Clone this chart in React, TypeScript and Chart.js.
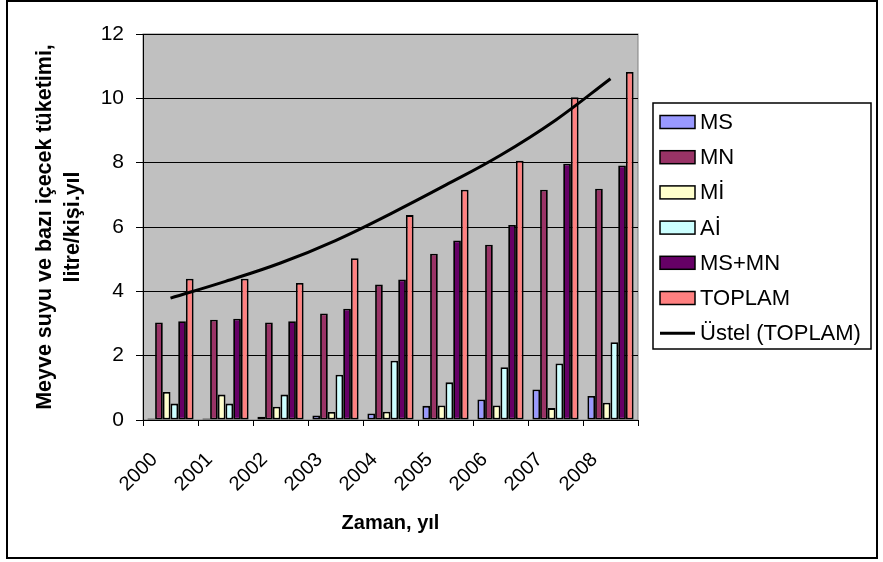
import { useEffect, useRef } from 'react';
import { Chart, registerables } from 'chart.js';

Chart.register(...registerables);

const years = ['2000', '2001', '2002', '2003', '2004', '2005', '2006', '2007', '2008'];
const msValues = [0.05, 0.05, 0.1, 0.14, 0.2, 0.44, 0.64, 0.95, 0.75];
const mnValues = [3.03, 3.12, 3.03, 3.31, 4.21, 5.17, 5.45, 7.16, 7.19];
const miValues = [0.87, 0.79, 0.41, 0.25, 0.26, 0.45, 0.45, 0.37, 0.54];
const aiValues = [0.51, 0.51, 0.79, 1.41, 1.84, 1.17, 1.64, 1.76, 2.42];
const msmnValues = [3.07, 3.15, 3.07, 3.46, 4.37, 5.58, 6.06, 7.97, 7.91];
const toplamValues = [4.39, 4.39, 4.26, 5.03, 6.37, 7.16, 8.06, 10.03, 10.82];
const trendValues = [3.79, 4.31, 4.88, 5.58, 6.41, 7.3, 8.23, 9.32, 10.61];
const yTicks = [0, 2, 4, 6, 8, 10, 12];

const FONT = 'Arial, "Liberation Sans", sans-serif';

const plotBackground = {
  id: 'plotBackground',
  beforeDraw(chart: any) {
    const { ctx, chartArea: a } = chart;
    ctx.save();
    ctx.fillStyle = '#c0c0c0';
    ctx.fillRect(a.left, a.top, a.right - a.left, a.bottom - a.top);
    ctx.strokeStyle = '#808080';
    ctx.lineWidth = 1;
    ctx.strokeRect(a.left, a.top, a.right - a.left, a.bottom - a.top);
    ctx.restore();
  },
};

// Excel-style boxed legend on the right, plus outer chart frame
const boxLegend = {
  id: 'boxLegend',
  afterDraw(chart: any) {
    const { ctx } = chart;
    ctx.save();
    ctx.strokeStyle = '#000';
    ctx.lineWidth = 2;
    ctx.strokeRect(7, 1, 870, 557);

    const x0 = 653, y0 = 103, w = 218, h = 246, row = 35.2;
    ctx.fillStyle = '#fff';
    ctx.fillRect(x0, y0, w, h);
    ctx.lineWidth = 1.5;
    ctx.strokeRect(x0, y0, w, h);
    ctx.font = `22px ${FONT}`;
    ctx.textBaseline = 'middle';
    chart.data.datasets.forEach((ds: any, i: number) => {
      const cy = y0 + 19 + i * row;
      if (ds.type === 'line') {
        ctx.strokeStyle = ds.borderColor;
        ctx.lineWidth = 3;
        ctx.beginPath();
        ctx.moveTo(660, cy);
        ctx.lineTo(695, cy);
        ctx.stroke();
      } else {
        ctx.fillStyle = ds.backgroundColor;
        ctx.fillRect(660, cy - 6.5, 35, 13);
        ctx.strokeStyle = '#000';
        ctx.lineWidth = 1.5;
        ctx.strokeRect(660, cy - 6.5, 35, 13);
      }
      ctx.fillStyle = '#000';
      ctx.fillText(ds.label, 700, cy + 1);
    });
    ctx.restore();
  },
};

export default function App() {
  const canvasRef = useRef<HTMLCanvasElement>(null);
  const chartRef = useRef<Chart | null>(null);

  useEffect(() => {
    document.body.style.margin = '0';
    if (!canvasRef.current) return;
    if (chartRef.current) chartRef.current.destroy();

    const bar = (label: string, data: number[], color: string) => ({
      type: 'bar' as const,
      label,
      data,
      backgroundColor: color,
      borderColor: '#000',
      borderWidth: 1.8,
      borderSkipped: false,
      categoryPercentage: 0.84,
      barPercentage: 1.0,
    });

    chartRef.current = new Chart(canvasRef.current, {
      type: 'bar',
      data: {
        labels: years,
        datasets: [
          bar('MS', msValues, '#9999ff'),
          bar('MN', mnValues, '#993366'),
          bar('Mİ', miValues, '#ffffcc'),
          bar('Aİ', aiValues, '#ccffff'),
          bar('MS+MN', msmnValues, '#660066'),
          bar('TOPLAM', toplamValues, '#ff8080'),
          {
            type: 'line' as any,
            label: 'Üstel (TOPLAM)',
            data: trendValues,
            borderColor: '#000',
            backgroundColor: '#000',
            borderWidth: 3,
            pointRadius: 0,
            tension: 0.4,
            order: -1,
          },
        ] as any,
      },
      options: {
        responsive: true,
        maintainAspectRatio: false,
        animation: false,
        layout: { padding: { left: 30, right: 245, top: 34, bottom: 20 } },
        plugins: {
          legend: { display: false },
          tooltip: { enabled: false },
        },
        scales: {
          x: {
            offset: true,
            afterFit: (scale: any) => { scale.height = 122; },
            grid: { drawOnChartArea: false, drawTicks: true, tickLength: 6, color: '#000', offset: true },
            border: { color: '#000', width: 1 },
            ticks: {
              color: '#000',
              font: { family: FONT, size: 20 },
              minRotation: 45,
              maxRotation: 45,
              padding: 22,
              labelOffset: -16,
              autoSkip: false,
            },
            title: {
              display: true,
              text: 'Zaman, yıl',
              color: '#000',
              font: { family: FONT, size: 20, weight: 'bold', lineHeight: 1.2 },
              padding: { top: 4, bottom: 7 },
            },
          },
          y: {
            min: 0,
            max: 12,
            afterFit: (scale: any) => { scale.width = 113; },
            afterBuildTicks: (scale: any) => { scale.ticks = yTicks.map((v) => ({ value: v })); },
            grid: { color: '#000', lineWidth: 1, tickLength: 7 },
            border: { color: '#000', width: 1 },
            ticks: {
              color: '#000',
              font: { family: FONT, size: 21 },
              padding: 12,
            },
            title: {
              display: true,
              text: ['Meyve suyu ve bazı içecek tüketimi,', 'litre/kişi.yıl'],
              color: '#000',
              font: { family: FONT, size: 21.5, weight: 'bold', lineHeight: 1.3 },
              padding: { top: 1, bottom: 0 },
            },
          },
        },
      },
      plugins: [plotBackground, boxLegend],
    });

    return () => { chartRef.current?.destroy(); };
  }, []);

  return (
    <div style={{ position: 'relative', width: 883, height: 562 }}>
      <canvas ref={canvasRef} />
    </div>
  );
}
